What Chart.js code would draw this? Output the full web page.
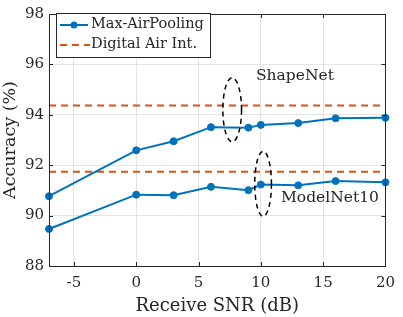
<!DOCTYPE html>
<html>
<head>
<meta charset="utf-8">
<script src="https://cdn.jsdelivr.net/npm/chart.js"></script>
<style>
  html, body { margin: 0; padding: 0; background: #fff; }
  #wrap { width: 403px; height: 317px; }
</style>
</head>
<body>
<div id="wrap"><canvas id="chart"></canvas></div>
<script>
// values
const snr = [-7, 0, 3, 6, 9, 10, 13, 16, 20];
const shapeNetAir = [90.77, 92.59, 92.95, 93.51, 93.49, 93.60, 93.67, 93.86, 93.88];
const modelNetAir = [89.47, 90.83, 90.81, 91.14, 91.01, 91.23, 91.20, 91.37, 91.32];
const digitalSnr = [-7, 20];
const shapeNetDigital = [94.37, 94.37];
const modelNetDigital = [91.74, 91.74];
const xTicks = [-5, 0, 5, 10, 15, 20];
const yTicks = [88, 90, 92, 94, 96, 98];
const legendLabels = ['Max-AirPooling', 'Digital Air Int.'];
const groupLabels = ['ShapeNet', 'ModelNet10'];

const BLUE = '#0072BD';
const ORANGE = '#D95319';
const AXIS = '#262626';
const TEXT = '#262626';
const FONT = '"DejaVu Serif", "Liberation Serif", serif';

const toPoints = (xs, ys) => xs.map((x, i) => ({ x: x, y: ys[i] }));

const airStyle = {
  borderColor: BLUE,
  backgroundColor: BLUE,
  borderWidth: 2,
  pointRadius: 3.5,
  pointBorderWidth: 1,
  pointBackgroundColor: BLUE,
  tension: 0,
  clip: false
};
const digitalStyle = {
  borderColor: ORANGE,
  borderWidth: 2,
  borderDash: [7, 5],
  pointRadius: 0,
  tension: 0
};

// frame, inward ticks, ellipses, labels and legend
const decorations = {
  id: 'decorations',
  afterDraw(chart) {
    const ctx = chart.ctx;
    const a = chart.chartArea;
    const xs = chart.scales.x, ys = chart.scales.y;
    ctx.save();
    ctx.strokeStyle = AXIS;
    ctx.lineWidth = 1;
    ctx.beginPath();
    xTicks.forEach(v => {
      const px = Math.round(xs.getPixelForValue(v)) + 0.5;
      ctx.moveTo(px, a.bottom); ctx.lineTo(px, a.bottom - 4);
      ctx.moveTo(px, a.top); ctx.lineTo(px, a.top + 4);
    });
    yTicks.forEach(v => {
      const py = Math.round(ys.getPixelForValue(v)) + 0.5;
      ctx.moveTo(a.left, py); ctx.lineTo(a.left + 4, py);
      ctx.moveTo(a.right, py); ctx.lineTo(a.right - 4, py);
    });
    ctx.stroke();
    ctx.strokeRect(Math.round(a.left) + 0.5, Math.round(a.top) + 0.5,
                   Math.round(a.right - a.left), Math.round(a.bottom - a.top));

    // dashed ellipses
    const ellipse = (cx, cy, rx, ry) => {
      const px = xs.getPixelForValue(cx), py = ys.getPixelForValue(cy);
      const prx = Math.abs(xs.getPixelForValue(cx + rx) - px);
      const pry = Math.abs(ys.getPixelForValue(cy + ry) - py);
      ctx.beginPath();
      ctx.ellipse(px, py, prx, pry, 0, 0, Math.PI * 2);
      ctx.stroke();
    };
    ctx.strokeStyle = '#000';
    ctx.lineWidth = 1.5;
    ctx.setLineDash([5, 4]);
    ellipse(7.7, 94.2, 0.75, 1.27);
    ellipse(10.18, 91.26, 0.67, 1.29);
    ctx.setLineDash([]);

    ctx.fillStyle = TEXT;
    ctx.font = '15.5px ' + FONT;
    ctx.textBaseline = 'middle';
    ctx.textAlign = 'left';
    ctx.fillText(groupLabels[0], 256, 76);
    ctx.fillText(groupLabels[1], 281, 198);

    // legend box
    const lx = 56, ly = 13, lw = 154, lh = 44;
    ctx.fillStyle = '#fff';
    ctx.fillRect(lx, ly, lw, lh);
    ctx.strokeStyle = AXIS;
    ctx.lineWidth = 1;
    ctx.strokeRect(lx + 0.5, ly + 0.5, lw, lh);

    ctx.strokeStyle = BLUE;
    ctx.lineWidth = 2;
    ctx.beginPath();
    ctx.moveTo(60, 25); ctx.lineTo(88, 25);
    ctx.stroke();
    ctx.fillStyle = BLUE;
    ctx.beginPath();
    ctx.arc(74, 25, 3.5, 0, Math.PI * 2);
    ctx.fill();

    ctx.strokeStyle = ORANGE;
    ctx.setLineDash([7, 5]);
    ctx.beginPath();
    ctx.moveTo(60, 45); ctx.lineTo(90, 45);
    ctx.stroke();
    ctx.setLineDash([]);

    ctx.fillStyle = TEXT;
    ctx.font = '14.5px ' + FONT;
    ctx.fillText(legendLabels[0], 91, 24, 114);
    ctx.fillText(legendLabels[1], 91, 44, 108);
    ctx.restore();
  }
};

new Chart(document.getElementById('chart'), {
  type: 'line',
  data: {
    datasets: [
      Object.assign({ label: 'ShapeNet air', data: toPoints(snr, shapeNetAir) }, airStyle),
      Object.assign({ label: 'ModelNet10 air', data: toPoints(snr, modelNetAir) }, airStyle),
      Object.assign({ label: 'ShapeNet digital', data: toPoints(digitalSnr, shapeNetDigital) }, digitalStyle),
      Object.assign({ label: 'ModelNet10 digital', data: toPoints(digitalSnr, modelNetDigital) }, digitalStyle)
    ]
  },
  options: {
    responsive: true,
    maintainAspectRatio: false,
    animation: false,
    events: [],
    layout: { padding: { top: 7, right: 9, left: 0, bottom: 0 } },
    plugins: { legend: { display: false }, tooltip: { enabled: false } },
    scales: {
      x: {
        type: 'linear',
        min: -7,
        max: 20,
        afterBuildTicks: s => { s.ticks = xTicks.map(v => ({ value: v })); },
        afterFit: s => { s.height = 51; },
        grid: { color: '#e3e3e3', lineWidth: 1, drawTicks: false },
        border: { display: false },
        ticks: { color: TEXT, font: { family: FONT, size: 15 }, padding: 8 },
        title: { display: true, text: 'Receive SNR (dB)', color: TEXT,
                 font: { family: FONT, size: 18 }, padding: { top: 0, bottom: 0 } }
      },
      y: {
        min: 88,
        max: 98,
        afterBuildTicks: s => { s.ticks = yTicks.map(v => ({ value: v })); },
        afterFit: s => { s.width = 49; },
        grid: { color: '#e3e3e3', lineWidth: 1, drawTicks: false },
        border: { display: false },
        ticks: { color: TEXT, font: { family: FONT, size: 15 }, padding: 5 },
        title: { display: true, text: 'Accuracy (%)', color: TEXT,
                 font: { family: FONT, size: 17.5 }, padding: { top: 0, bottom: 0 } }
      }
    }
  },
  plugins: [decorations]
});
</script>
</body>
</html>
